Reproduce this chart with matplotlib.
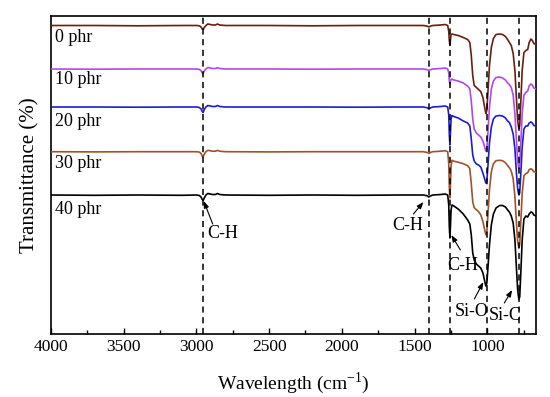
import numpy as np
import matplotlib
matplotlib.use('Agg')
from matplotlib import pyplot as plt
from matplotlib.ticker import MultipleLocator

plt.rcParams['font.family'] = ['Liberation Serif', 'DejaVu Serif']

# wavenumbers (cm-1), shared by all spectra
wavenumber = [4000, 3700, 3400, 3100, 3000, 2980, 2968, 2960, 2954, 2946,
              2935, 2922, 2905, 2890, 2870, 2855, 2840, 2800, 2500, 2200,
              1900, 1600, 1440, 1412, 1402, 1392, 1375, 1320, 1290, 1272,
              1265, 1261, 1257, 1253, 1249, 1243, 1230, 1200, 1165, 1135,
              1120, 1110, 1100, 1090, 1075, 1060, 1045, 1030, 1018, 1010,
              1003, 995, 985, 972, 958, 940, 915, 895, 875, 860,
              848, 835, 822, 810, 800, 791, 783, 777, 770, 760,
              748, 735, 722, 712, 700, 690, 680, 665]

# transmittance (a.u.)
t_0phr = [110, 110, 109.7, 110, 110, 109.7, 108.5, 106.5, 106, 108,
          110, 111.5, 111, 110.5, 110.5, 111.5, 110.5, 110, 110, 109.7,
          110, 110, 110, 109.3, 108.5, 109.3, 110, 110.5, 111, 110,
          104, 95, 90, 96, 101, 101.5, 101, 100, 98, 96,
          93, 80, 60, 50, 48, 46, 44, 38, 28, 22,
          25, 45, 70, 88, 97, 101, 101.5, 101, 99, 96,
          93, 90, 82, 65, 38, 15, 7, 10, 32, 65,
          83, 85, 86, 93, 96.5, 95, 92, 91]
t_10phr = [110, 109.8, 110, 110, 110, 109.6, 108.3, 106, 105.5, 108,
           110, 111.5, 111, 110.5, 110.5, 111.3, 110.5, 110, 110, 109.8,
           110, 110, 110, 109.3, 108.5, 109.3, 110, 110.5, 111, 110,
           106, 98, 95, 98, 99.5, 100, 99, 98, 96, 93,
           90, 78, 60, 50, 46, 44, 42, 38, 32, 28,
           30, 48, 72, 90, 98, 101.5, 102, 101, 99, 96,
           94.5, 91.5, 84, 65, 40, 18, 10, 13, 35, 65,
           84, 86.5, 88, 93, 95, 94, 91, 90]
t_20phr = [110, 110, 109.8, 110, 110, 109.5, 108, 105.5, 104.5, 107.5,
           110, 111.5, 111, 110.5, 110.5, 111.5, 110.5, 110, 110, 110,
           109.8, 110, 110, 109.2, 108, 109, 110, 110.5, 111, 110,
           102, 82, 72, 85, 98, 101.5, 100.5, 99, 96, 94,
           91, 78, 62, 56, 53, 52, 50, 44, 38, 34,
           36, 52, 74, 90, 98, 101, 101.5, 101, 99, 96,
           94.5, 90, 83, 68, 45, 28, 22, 24, 42, 70,
           88, 91, 91, 94, 95, 94, 91.5, 91]
t_30phr = [110, 109.8, 110, 110, 110, 109.6, 108.2, 105.5, 104.8, 107.5,
           110, 111.3, 111, 110.5, 110.5, 111.3, 110.5, 110, 109.8, 110,
           110, 110, 110, 109.2, 108.2, 109.2, 110, 110.5, 111, 110,
           98, 74, 64, 78, 96, 101.4, 100.5, 99.5, 98, 96,
           93, 78, 60, 54, 52, 50, 47, 40, 32, 27,
           30, 48, 72, 90, 98, 101, 101.4, 101, 99, 96,
           94, 90.5, 83, 65, 40, 20, 14, 17, 38, 68,
           86, 88, 89, 92, 93, 92, 90, 89.5]
t_40phr = [110, 109.7, 110, 109.7, 110, 109.5, 108, 105.5, 104.5, 107,
           110, 111.5, 111, 110.5, 110.5, 111.5, 110.5, 110, 109.7, 110,
           109.7, 110, 110, 109.2, 108, 109, 110, 110.5, 111, 110,
           100, 78, 67, 80, 95, 100, 99, 96, 91, 85,
           81, 70, 52, 45, 41, 39, 37, 32, 24, 19,
           22, 38, 60, 80, 91, 97, 99.5, 99.5, 98, 95,
           93, 89, 82, 65, 38, 15, 6, 8, 30, 65,
           86, 89, 88, 91, 93, 92.5, 90, 89]

labels = ['0 phr', '10 phr', '20 phr', '30 phr', '40 phr']
spectra = [t_0phr, t_10phr, t_20phr, t_30phr, t_40phr]
colors = ['#6a1e10', '#b048f0', '#1c1cd0', '#a0522d', '#000000']
offsets = [198.5, 155, 117, 72.3, 29]
label_y = [297, 254, 213, 171, 125]

# band positions marked by dashed lines
band_pos = [2955, 1400, 1257, 1005, 780]

# annotations: (text, text x, text y, arrow tail, arrow head, alignment)
notes = [('C-H', 2929, 101, (2888, 110), (2950, 133), 'left'),
         ('C-H', 1549, 109, (1508, 120), (1439, 132), 'center'),
         ('C-H', 1172, 69, (1185, 84), (1247, 99), 'center'),
         ('Si-O', 1110, 22, (1089, 35), (1027, 52), 'center'),
         ('Si-C', 880, 19, (883, 31), (829, 44), 'center')]

fig = plt.figure(figsize=(5.5, 3.97), dpi=100)
ax = fig.add_axes([51 / 550, 1 - 334 / 397, 485 / 550, 318 / 397])

wn = np.array(wavenumber)
for i in range(len(spectra)):
    ax.plot(wn, np.array(spectra[i]) + offsets[i], color=colors[i], lw=1.2, zorder=3 + (4 - i) * 0.1)
    ax.text(3975, label_y[i], labels[i], fontsize=13, va='center', ha='left')

for b in band_pos:
    ax.axvline(b, color='black', lw=1.1, linestyle=(0, (4, 3)), zorder=5)

for txt, tx, ty, tail, head, ha in notes:
    ax.text(tx, ty, txt, fontsize=13, ha=ha, va='center', zorder=6)
    ax.annotate('', xy=head, xytext=tail,
                arrowprops=dict(arrowstyle='-|>,head_length=0.4,head_width=0.15',
                                color='black', lw=0.8, shrinkA=0, shrinkB=0))

ax.set_xlim(4000, 665)
ax.set_ylim(0, 318)
ax.xaxis.set_major_locator(MultipleLocator(500))
ax.xaxis.set_minor_locator(MultipleLocator(250))
ax.tick_params(axis='x', which='both', direction='in', top=False, labelsize=12.5, width=1)
ax.tick_params(axis='x', which='major', length=4.5)
ax.tick_params(axis='x', which='minor', length=3)
ax.set_yticks([])
for s in ax.spines.values():
    s.set_linewidth(1.2)

ax.set_xlabel('Wavelength (cm$^{\\mathregular{-1}}$)', fontsize=14, labelpad=11)
ax.set_ylabel('Transmittance (%)', fontsize=15, labelpad=8)

fig.savefig('out.png', dpi=100)
